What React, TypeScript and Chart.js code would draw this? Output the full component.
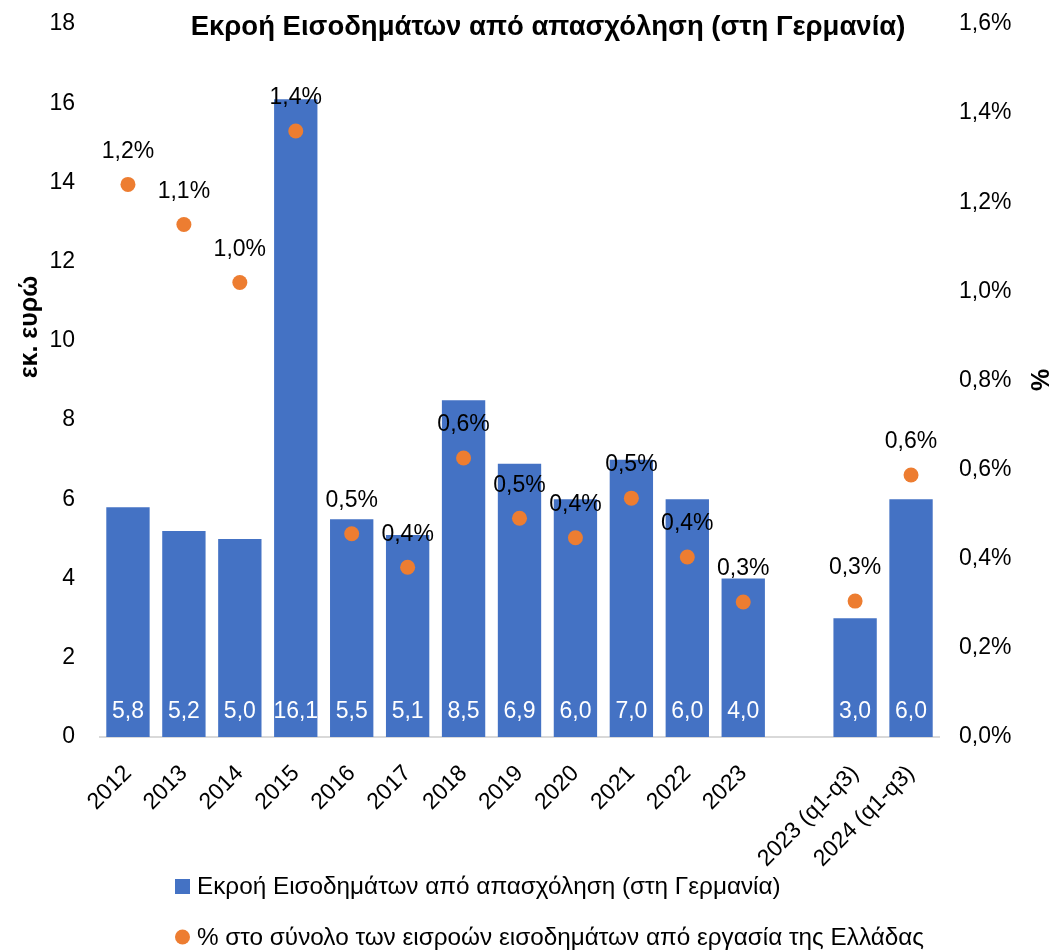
import React, { useEffect, useRef } from "react";
import { Chart, registerables } from "chart.js";

Chart.register(...registerables);

const FONT = '"Liberation Sans", Arial, sans-serif';

const TITLE = "Εκροή Εισοδημάτων από απασχόληση (στη Γερμανία)";
const Y_TITLE = "εκ. ευρώ";
const Y1_TITLE = "%";

const categories = [
  "2012", "2013", "2014", "2015", "2016", "2017", "2018", "2019",
  "2020", "2021", "2022", "2023", "", "2023 (q1-q3)", "2024 (q1-q3)",
];

const barLabel = "Εκροή Εισοδημάτων από απασχόληση (στη Γερμανία)";
const barValues: (number | null)[] = [
  5.8, 5.2, 5.0, 16.1, 5.5, 5.1, 8.5, 6.9, 6.0, 7.0, 6.0, 4.0, null, 3.0, 6.0,
];

const pctLabel = "% στο σύνολο των εισροών εισοδημάτων από εργασία της Ελλάδας";
const pctValues: (number | null)[] = [
  1.24, 1.15, 1.02, 1.36, 0.456, 0.381, 0.626, 0.491, 0.447, 0.536, 0.404,
  0.303, null, 0.305, 0.588,
];

const BAR_COLOR = "#4472C4";
const DOT_COLOR = "#ED7D31";

const fmt1 = (v: number) => v.toFixed(1).replace(".", ",");

const textPlugin = {
  id: "customText",
  afterDatasetsDraw(chart: any) {
    const ctx = chart.ctx;
    const area = chart.chartArea;
    ctx.save();
    // bar value labels
    const barMeta = chart.getDatasetMeta(0);
    ctx.font = `23px ${FONT}`;
    ctx.fillStyle = "#ffffff";
    ctx.textAlign = "center";
    ctx.textBaseline = "middle";
    barMeta.data.forEach((el: any, i: number) => {
      const v = barValues[i];
      if (v == null) return;
      ctx.fillText(fmt1(v), el.x, area.bottom - 25);
    });
    // dot labels
    const dotMeta = chart.getDatasetMeta(1);
    ctx.fillStyle = "#000000";
    dotMeta.data.forEach((el: any, i: number) => {
      const v = pctValues[i];
      if (v == null) return;
      ctx.fillText(fmt1(v) + "%", el.x, el.y - 33);
    });
    ctx.restore();
  },
  afterDraw(chart: any) {
    const ctx = chart.ctx;
    ctx.save();
    ctx.fillStyle = "#000000";
    ctx.textBaseline = "middle";
    // title
    ctx.font = `bold 27.5px ${FONT}`;
    ctx.textAlign = "center";
    ctx.fillText(TITLE, 548, 27);
    // y axis titles
    ctx.font = `bold 25px ${FONT}`;
    ctx.save();
    ctx.translate(30, 327);
    ctx.rotate(-Math.PI / 2);
    ctx.fillText(Y_TITLE, 0, 0);
    ctx.restore();
    ctx.save();
    ctx.translate(1042, 380);
    ctx.rotate(-Math.PI / 2);
    ctx.fillText(Y1_TITLE, 0, 0);
    ctx.restore();
    // legend
    ctx.font = `24.3px ${FONT}`;
    ctx.textAlign = "left";
    const lx = 175;
    ctx.fillStyle = BAR_COLOR;
    ctx.fillRect(lx, 879, 15, 15);
    ctx.fillStyle = "#000000";
    ctx.fillText(chart.data.datasets[0].label, lx + 22, 887);
    ctx.fillStyle = DOT_COLOR;
    ctx.beginPath();
    ctx.arc(lx + 7.5, 937, 7.5, 0, Math.PI * 2);
    ctx.fill();
    ctx.fillStyle = "#000000";
    ctx.fillText(chart.data.datasets[1].label, lx + 22, 938);
    ctx.restore();
  },
};

export default function App() {
  const ref = useRef<HTMLCanvasElement>(null);
  useEffect(() => {
    document.body.style.margin = "0";
    if (!ref.current) return;
    Chart.defaults.font.family = FONT;
    const chart = new Chart(ref.current, {
      type: "bar",
      data: {
        labels: categories,
        datasets: [
          {
            type: "bar",
            label: barLabel,
            data: barValues,
            backgroundColor: BAR_COLOR,
            barPercentage: 0.775,
            categoryPercentage: 1,
            yAxisID: "y",
            order: 2,
          },
          {
            type: "line",
            label: pctLabel,
            data: pctValues,
            showLine: false,
            pointRadius: 7.5,
            pointHoverRadius: 7.5,
            pointBackgroundColor: DOT_COLOR,
            pointBorderWidth: 0,
            borderColor: DOT_COLOR,
            backgroundColor: DOT_COLOR,
            yAxisID: "y1",
            order: 1,
          } as any,
        ],
      },
      options: {
        responsive: false,
        animation: false,
        layout: { padding: { top: 24, left: 0, right: 0, bottom: 0 } },
        plugins: {
          legend: { display: false },
          title: { display: false },
          tooltip: { enabled: false },
        },
        scales: {
          x: {
            type: "category",
            offset: true,
            grid: { display: false, drawTicks: false },
            border: { display: true, color: "#d9d9d9", width: 2 },
            ticks: {
              color: "#000000",
              font: { size: 23, family: FONT },
              minRotation: 45,
              maxRotation: 45,
              autoSkip: false,
              padding: 23,
            },
            afterFit: (s: any) => {
              s.height = 213;
              s.paddingLeft = 0;
              s.paddingRight = 0;
            },
          },
          y: {
            position: "left",
            min: 0,
            max: 18,
            grid: { display: false, drawTicks: false },
            border: { display: false },
            ticks: {
              stepSize: 2,
              color: "#000000",
              font: { size: 23, family: FONT },
              padding: 25,
            },
            afterFit: (s: any) => {
              s.width = 100;
              s.paddingTop = 0;
              s.paddingBottom = 0;
            },
          },
          y1: {
            position: "right",
            min: 0,
            max: 1.6,
            grid: { display: false, drawTicks: false },
            border: { display: false },
            ticks: {
              stepSize: 0.2,
              color: "#000000",
              font: { size: 23, family: FONT },
              padding: 20,
              callback: (v: any) => fmt1(Number(v)) + "%",
            },
            afterFit: (s: any) => {
              s.width = 117;
              s.paddingTop = 0;
              s.paddingBottom = 0;
            },
          },
        },
      },
      plugins: [textPlugin],
    });
    return () => chart.destroy();
  }, []);
  return (
    <canvas
      ref={ref}
      width={1056}
      height={950}
      style={{ display: "block", width: 1056, height: 950 }}
    />
  );
}
